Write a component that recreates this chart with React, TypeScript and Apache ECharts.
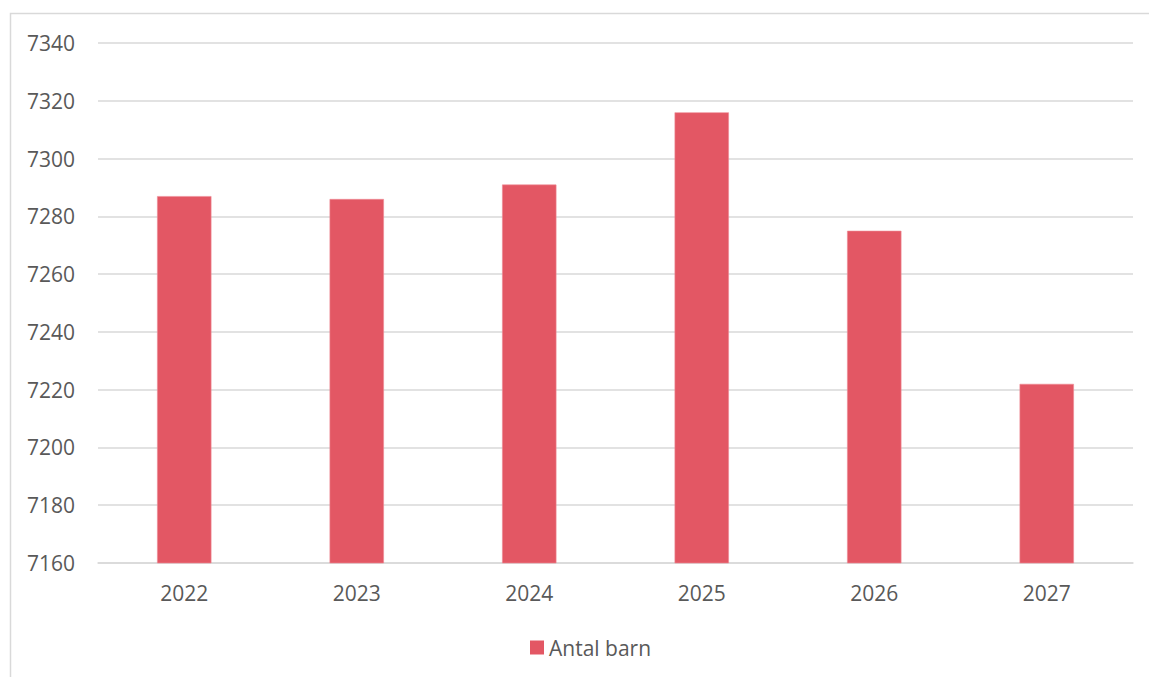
import React, { useEffect, useRef } from "react";
import * as echarts from "echarts";

const categories = ["2022", "2023", "2024", "2025", "2026", "2027"];
const antalBarn = [7287, 7286, 7291, 7316, 7275, 7222];
const seriesName = "Antal barn";

export default function App() {
  const ref = useRef<HTMLDivElement>(null);
  useEffect(() => {
    if (!ref.current) return;
    const chart = echarts.init(ref.current, null, { renderer: "svg" });
    const font = "'Open Sans', 'Liberation Sans', sans-serif";
    chart.setOption({
      animation: false,
      backgroundColor: "#ffffff",
      graphic: [
        {
          type: "rect",
          shape: { x: 10.5, y: 13.5, width: 1300, height: 800 },
          style: { fill: "none", stroke: "#d9d9d9", lineWidth: 1.5 },
          silent: true,
          z: -10,
        },
      ],
      grid: { left: 98, right: 16, top: 43, bottom: 114, containLabel: false },
      legend: {
        left: 525,
        top: 632,
        itemWidth: 14,
        itemHeight: 14,
        icon: "rect",
        itemGap: 10,
        itemStyle: { borderWidth: 0 },
        textStyle: { color: "#595959", fontSize: 21, fontFamily: font },
        data: [seriesName],
      },
      xAxis: {
        type: "category",
        data: categories,
        axisLine: { show: true, lineStyle: { color: "#d9d9d9", width: 1.5 } },
        axisTick: { show: false },
        axisLabel: { color: "#595959", fontSize: 21, fontFamily: font, margin: 19 },
      },
      yAxis: {
        type: "value",
        min: 7160,
        max: 7340,
        interval: 20,
        axisLine: { show: false },
        axisTick: { show: false },
        splitLine: { lineStyle: { color: "#d9d9d9", width: 1.5 } },
        axisLabel: {
          color: "#595959",
          fontSize: 21,
          fontFamily: font,
          margin: 23,
          formatter: (v: number) => String(v),
        },
      },
      series: [
        {
          name: seriesName,
          type: "bar",
          data: antalBarn,
          barWidth: "31.5%",
          itemStyle: { color: "#e35764", borderColor: "#ef8c95", borderWidth: 0.6 },
        },
      ],
    });
    return () => chart.dispose();
  }, []);
  return (
    <div
      ref={ref}
      style={{ position: "fixed", left: 0, top: 0, width: 1149, height: 677 }}
    />
  );
}
